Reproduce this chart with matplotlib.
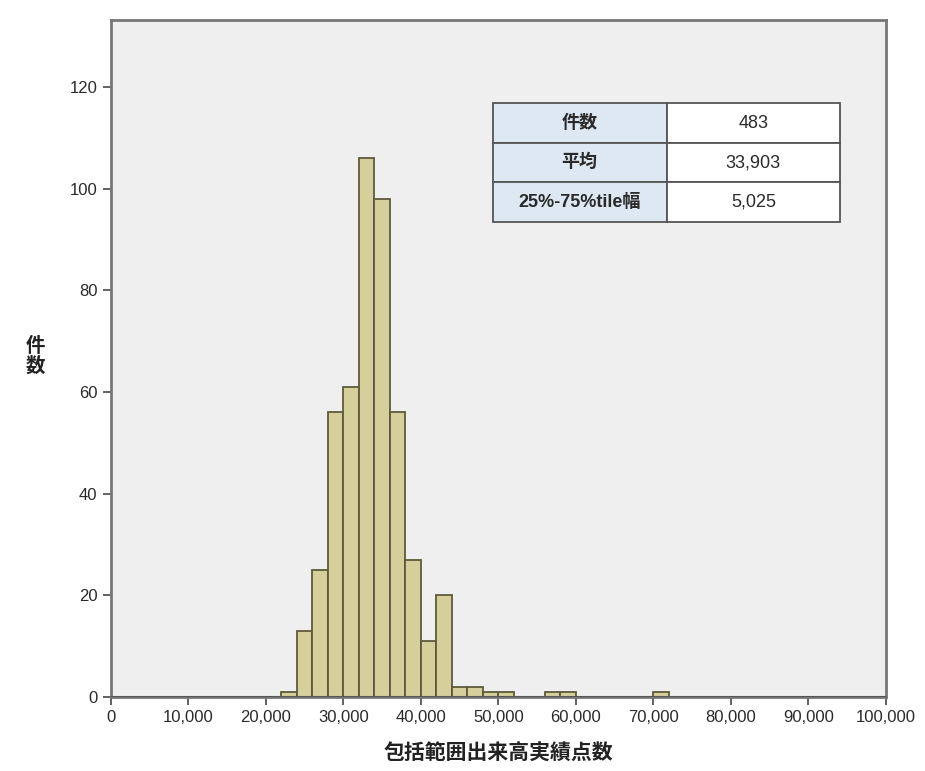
import numpy as np
import matplotlib
matplotlib.use("Agg")
import matplotlib.pyplot as plt

# histogram data (bin width 2,000)
bin_left = [22000, 24000, 26000, 28000, 30000, 32000, 34000, 36000, 38000,
            40000, 42000, 44000, 46000, 48000, 50000, 56000, 58000, 70000]
counts = [1, 13, 25, 56, 61, 106, 98, 56, 27,
          11, 20, 2, 2, 1, 1, 1, 1, 1]
bin_width = 2000

# summary table
table_labels = ["件数", "平均", "25%-75%tile幅"]
table_values = ["483", "33,903", "5,025"]

x_ticks = np.arange(0, 100001, 10000)
y_ticks = np.arange(0, 121, 20)

plt.rcParams["font.family"] = ["Liberation Sans", "Noto Sans CJK JP", "DejaVu Sans"]

fig = plt.figure(figsize=(9.25, 7.71), dpi=100)
ax = fig.add_axes([0.1197, 0.096, 0.838, 0.878])
ax.set_facecolor("#efefef")

ax.bar(bin_left, counts, width=bin_width, align="edge",
       color="#d5d09b", edgecolor="#5e5a3a", linewidth=1.3, zorder=3)
ax.axhline(0, color="#555555", linewidth=1.5, zorder=4)

ax.set_xlim(0, 100000)
ax.set_ylim(0, 133.2)
ax.set_xticks(x_ticks)
ax.set_xticklabels([f"{v:,}" for v in x_ticks])
ax.set_yticks(y_ticks)
ax.tick_params(axis="both", direction="out", length=6, width=1.3,
               colors="#555555", labelsize=12, labelcolor="#2a2a2a")

for sp in ax.spines.values():
    sp.set_color("#777777")
    sp.set_linewidth(2)

ax.set_xlabel("包括範囲出来高実績点数", family=["Noto Sans CJK JP"],
              fontsize=15, fontweight="bold", color="#222222", labelpad=12)
fig.text(0.038, 0.538, "件\n数", family=["Noto Sans CJK JP"], fontsize=14,
         fontweight="bold", color="#222222", ha="center", va="center",
         linespacing=1.0)

# summary table in upper right
tbl = ax.table(cellText=[[l, v] for l, v in zip(table_labels, table_values)],
               cellLoc="center", colWidths=[0.5, 0.5],
               bbox=[0.493, 0.702, 0.448, 0.175])
tbl.auto_set_font_size(False)
for (r, c), cell in tbl.get_celld().items():
    cell.set_edgecolor("#555555")
    cell.set_linewidth(1.3)
    cell.set_facecolor("#dde8f3" if c == 0 else "#ffffff")
    cell.get_text().set_fontsize(13)
    cell.get_text().set_color("#2a2a2a")
    cell.get_text().set_family(["Liberation Sans", "Noto Sans CJK JP"])
    if c == 0:
        cell.get_text().set_fontweight("bold")
tbl.set_zorder(5)

fig.savefig("out.png", dpi=100, facecolor="white")
